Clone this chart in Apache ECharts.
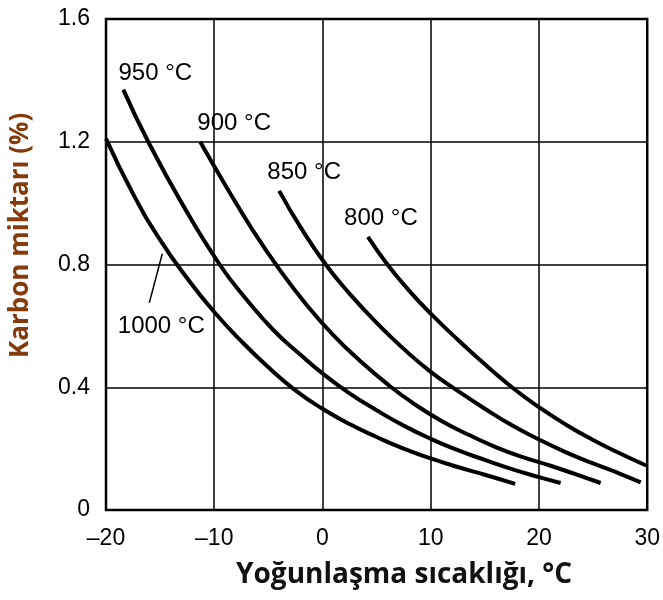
<!DOCTYPE html>
<html>
<head>
    <meta charset="UTF-8">
    <title>Karbon miktarı</title>
    <style>
        html, body {margin: 0; padding: 0; background: #fff;}
    </style>
</head>
<body>
    <div id="main" style="width:663px;height:600px"></div>

    <script src="https://cdn.jsdelivr.net/npm/echarts@6/dist/echarts.min.js"></script>
    <script>
        // eğriler: [yoğunlaşma sıcaklığı, karbon %]
        var names = ['800 °C', '850 °C', '900 °C', '950 °C', '1000 °C'];
        var c800 = [[4.2,0.89],[6,0.8],[8,0.715],[10,0.64],[12.5,0.555],[15,0.475],[17.5,0.4],[20,0.335],[22.5,0.278],[25,0.228],[27.5,0.184],[29.9,0.145]];
        var c850 = [[-4,1.04],[-2,0.92],[0.3,0.8],[2.5,0.705],[5,0.61],[7.5,0.525],[10,0.45],[12.5,0.388],[15,0.33],[17.5,0.276],[20,0.23],[22.5,0.188],[25,0.152],[27.5,0.118],[29.4,0.09]];
        var c900 = [[-11.3,1.2],[-9,1.06],[-6.5,0.915],[-4,0.785],[-1.5,0.67],[1,0.57],[3.5,0.485],[6,0.41],[8.5,0.345],[11,0.29],[13.5,0.245],[16,0.205],[18.5,0.172],[21,0.145],[23.5,0.115],[25.7,0.088]];
        var c950 = [[-18.4,1.37],[-16.1,1.2],[-13,1.0],[-9.5,0.8],[-7,0.685],[-4.5,0.585],[-2,0.505],[0,0.445],[2.5,0.38],[5,0.325],[7.5,0.275],[10,0.232],[12.5,0.195],[15,0.163],[17.5,0.133],[20,0.107],[22,0.088]];
        var c1000 = [[-20,1.21],[-17.5,1.03],[-15,0.88],[-12.5,0.755],[-10,0.645],[-7.5,0.55],[-5,0.465],[-2.5,0.39],[0,0.33],[2.5,0.28],[5,0.238],[7.5,0.2],[10,0.168],[12.5,0.14],[15,0.115],[17.8,0.085]];
        var curves = [c800, c850, c900, c950, c1000];

        // etiket kaymaları (px), ilk noktaya göre
        var labelOffsets = [[13,-19],[25,-18],[34,-18],[32,-16],[12,24]];
        // 1000 °C için ok çizgisi
        var pointer1000 = [[-14.8,0.835],[-16.0,0.675]];

        var app = echarts.init(document.getElementById('main'));

        var series = [];
        for (var i = 0; i < curves.length; i++) {
            var anchor = (i == 4) ? pointer1000[1] : curves[i][0];
            var s = {
                name: names[i],
                type: 'line',
                data: curves[i],
                smooth: 0.5,
                showSymbol: false,
                silent: true,
                lineStyle: {color: '#000', width: 4},
                markPoint: {
                    symbol: 'circle',
                    symbolSize: 0,
                    silent: true,
                    label: {
                        show: true,
                        position: 'inside',
                        offset: labelOffsets[i],
                        formatter: names[i],
                        color: '#000',
                        fontFamily: 'Liberation Sans',
                        fontSize: 24
                    },
                    data: [{coord: anchor}]
                }
            };
            if (i == 4) {
                s.markLine = {
                    symbol: 'none',
                    silent: true,
                    label: {show: false},
                    lineStyle: {color: '#000', width: 1.5, type: 'solid'},
                    data: [[{coord: pointer1000[0]}, {coord: pointer1000[1]}]]
                };
            }
            series.push(s);
        }

        option = {
            animation: false,
            grid: {left: 106, right: 13, top: 19, bottom: 90, show: true, borderColor: '#000', borderWidth: 2.5},
            xAxis: {
                type: 'value',
                min: -20,
                max: 30,
                interval: 10,
                axisLine: {show: false},
                axisTick: {show: false},
                splitLine: {lineStyle: {color: '#000', width: 1.5}},
                axisLabel: {
                    color: '#000', fontFamily: 'Liberation Sans', fontSize: 23, margin: 17,
                    formatter: function (v) { return String(v).replace('-', '\u2013'); }
                }
            },
            yAxis: {
                type: 'value',
                min: 0,
                max: 1.6,
                interval: 0.4,
                axisLine: {show: false},
                axisTick: {show: false},
                splitLine: {lineStyle: {color: '#000', width: 1.5}},
                axisLabel: {
                    color: '#000', fontFamily: 'Liberation Sans', fontSize: 23, margin: 16,
                    formatter: function (v) { return v == 0 ? '0' : v.toFixed(1); }
                }
            },
            graphic: [
                {
                    type: 'text',
                    left: 236,
                    top: 561,
                    style: {text: 'Yoğunlaşma sıcaklığı, °C', fill: '#111', font: 'bold 28px "Open Sans"'}
                },
                {
                    type: 'text',
                    x: 8,
                    y: 358,
                    rotation: Math.PI / 2,
                    style: {text: 'Karbon miktarı (%)', fill: '#843c0c', font: 'bold 26px "Open Sans"'}
                }
            ],
            series: series
        };
        app.setOption(option);
    </script>
</body>
</html>
